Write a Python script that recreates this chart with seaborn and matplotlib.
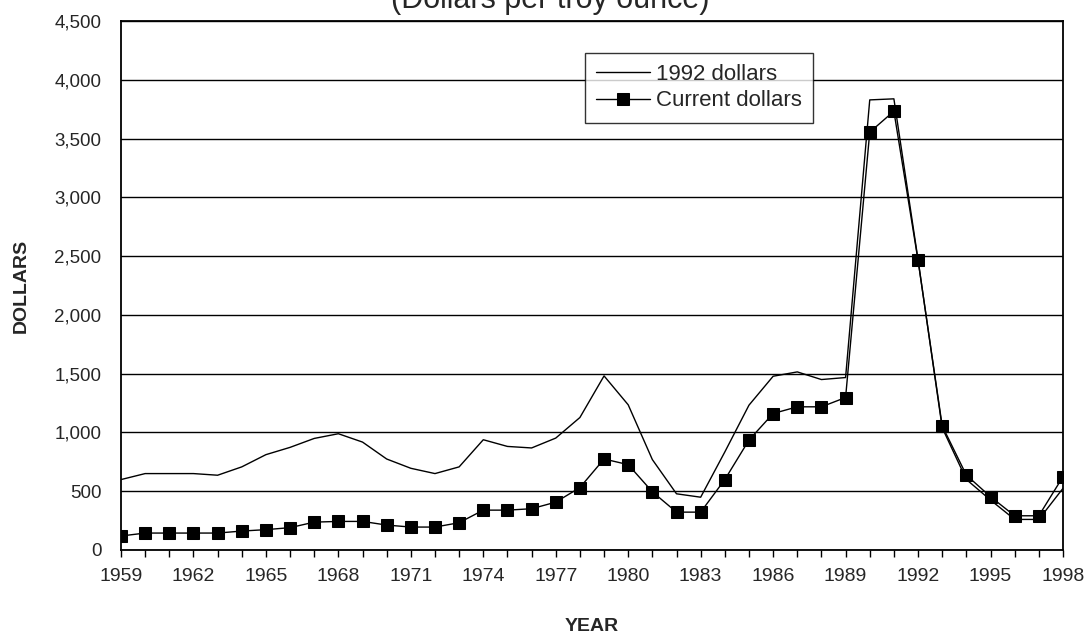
import numpy as np
import pandas as pd
import matplotlib
matplotlib.use("Agg")
import matplotlib.pyplot as plt
import seaborn as sns

# Prices in dollars per troy ounce
years = list(range(1959, 1999))
dollars_1992 = [599, 650, 650, 650, 636, 707, 811, 873, 949, 989, 918, 774, 695, 650,
                707, 938, 881, 868, 952, 1127, 1481, 1235, 769, 478, 449, 834,
                1232, 1478, 1515, 1450, 1467, 3829, 3838, 2470, 1040, 600, 425, 260, 260, 524]
current_dollars = [119, 144, 144, 144, 144, 161, 173, 190, 237, 243, 243, 212, 195, 195,
                   232, 339, 339, 351, 407, 531, 774, 726, 495, 322, 322, 599,
                   935, 1161, 1218, 1218, 1297, 3554, 3733, 2464, 1056, 637, 453, 291, 291, 623]
x_ticks = list(range(1959, 1999, 3))
y_ticks = list(range(0, 4501, 500))

df = pd.DataFrame({'Year': years, '1992 dollars': dollars_1992, 'Current dollars': current_dollars})

sns.set_style('white')
plt.rcParams['font.family'] = ['Liberation Sans', 'DejaVu Sans']

fig = plt.figure(figsize=(10.91, 6.37), dpi=100)
ax = fig.add_axes([0.1109, 0.1366, 0.8634, 0.8304])

sns.lineplot(data=df, x='Year', y='1992 dollars', color='black', linewidth=1.0,
             label='1992 dollars', ax=ax)
sns.lineplot(data=df, x='Year', y='Current dollars', color='black', linewidth=1.0,
             marker='s', markersize=9, markeredgecolor='black', markerfacecolor='black',
             label='Current dollars', ax=ax)

ax.set_xlim(1959, 1998)
ax.set_ylim(0, 4500)
ax.set_xticks(x_ticks)
ax.set_xticks(years, minor=True)
ax.set_yticks(y_ticks)
ax.set_yticklabels([f'{v:,}' for v in y_ticks])
ax.yaxis.grid(True, color='black', linewidth=1.0)
ax.set_axisbelow(True)

for side in ['left', 'bottom', 'right', 'top']:
    ax.spines[side].set_visible(True)
    ax.spines[side].set_color('black')
    ax.spines[side].set_linewidth(1.3)

ax.tick_params(axis='x', which='both', direction='out', length=5, width=1, color='black',
               bottom=True, labelsize=14, pad=8)
ax.tick_params(axis='y', length=0, labelsize=13.5, pad=14)

ax.set_xlabel('YEAR', fontsize=14, fontweight='bold', labelpad=24)
ax.set_ylabel('DOLLARS', fontsize=14, fontweight='bold', labelpad=18)

leg = ax.legend(loc='upper left', bbox_to_anchor=(0.493, 0.94), frameon=True, fancybox=False,
                edgecolor='black', fontsize=16, handlelength=2.4, borderpad=0.5,
                labelspacing=0.25, handletextpad=0.3, borderaxespad=0)
leg.get_frame().set_linewidth(1.0)

fig.text(0.504, 1.0, '(Dollars per troy ounce)', ha='center', va='center', fontsize=22)

fig.savefig('out.png', dpi=100)
